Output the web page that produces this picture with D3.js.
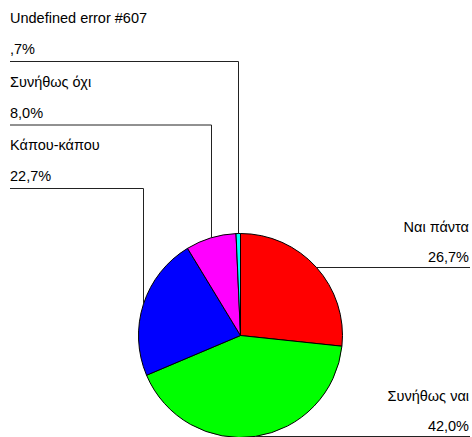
<!DOCTYPE html>
<html>
<head>
<meta charset="utf-8">
<script src="https://cdn.jsdelivr.net/npm/d3@7"></script>
<style>
  html, body { margin: 0; padding: 0; background: #fff; }
  svg { display: block; }
  text { font-family: "Liberation Sans", Arial, sans-serif; font-size: 14.5px; fill: #000; }
</style>
</head>
<body>
<script>
// Data (clockwise from 12 o'clock)
const categories = ["Ναι πάντα", "Συνήθως ναι", "Κάπου-κάπου", "Συνήθως όχι", "Undefined error #607"];
const values = [26.7, 42.0, 22.7, 8.0, 0.7];
const colors = ["#ff0000", "#00ff00", "#0000ff", "#ff00ff", "#00ffff"];

const W = 472, H = 437;
const cx = 240.5, cy = 335.5, R = 102;

const loc = d3.formatLocale({ decimal: ",", thousands: ".", grouping: [3], currency: ["", ""] });
const f1 = loc.format(".1f");
const pct = v => f1(v).replace(/^0(?=,)/, "") + "%";

const svg = d3.select("body").append("svg").attr("width", W).attr("height", H);

const pie = d3.pie().sort(null).value(d => d.value);
const data = categories.map((c, i) => ({ name: c, value: values[i], color: colors[i] }));
const arcs = pie(data);
const arc = d3.arc().innerRadius(0).outerRadius(R);

const g = svg.append("g").attr("transform", `translate(${cx},${cy})`);
g.selectAll("path").data(arcs).join("path")
  .attr("d", arc)
  .attr("fill", d => d.data.color)
  .attr("stroke", "#000")
  .attr("stroke-width", 1);

const edge = d => {
  const a = (d.startAngle + d.endAngle) / 2;
  return [cx + R * Math.sin(a), cy - R * Math.cos(a), a];
};

// Left-side labels (slices whose midpoint is on the left), stacked from the top
const left = arcs.filter(d => (d.startAngle + d.endAngle) / 2 > Math.PI).reverse();
const right = arcs.filter(d => (d.startAngle + d.endAngle) / 2 <= Math.PI);

const leftX = 10;
left.forEach((d, i) => {
  const [ex, ey] = edge(d);
  const ly = 61.5 + i * 63.5;
  svg.append("path")
    .attr("d", `M${leftX},${ly}H${Math.round(ex) + 0.5}V${ey}`)
    .attr("fill", "none").attr("stroke", "#222").attr("stroke-width", 1);
  svg.append("text").attr("x", leftX).attr("y", ly - 38.5).text(d.data.name);
  svg.append("text").attr("x", leftX).attr("y", ly - 7.5).text(pct(d.data.value));
});

const rightX = 470;
right.forEach((d, i) => {
  const [ex, ey] = edge(d);
  const ly = Math.min(Math.round(ey) + 0.5, H - 0.5);
  svg.append("path")
    .attr("d", `M${ex},${ly}H${rightX}`)
    .attr("fill", "none").attr("stroke", "#222").attr("stroke-width", 1);
  svg.append("text").attr("x", rightX - 1).attr("y", ly - 36).attr("text-anchor", "end").text(d.data.name);
  svg.append("text").attr("x", rightX - 1).attr("y", ly - 6).attr("text-anchor", "end").text(pct(d.data.value));
});
</script>
</body>
</html>
